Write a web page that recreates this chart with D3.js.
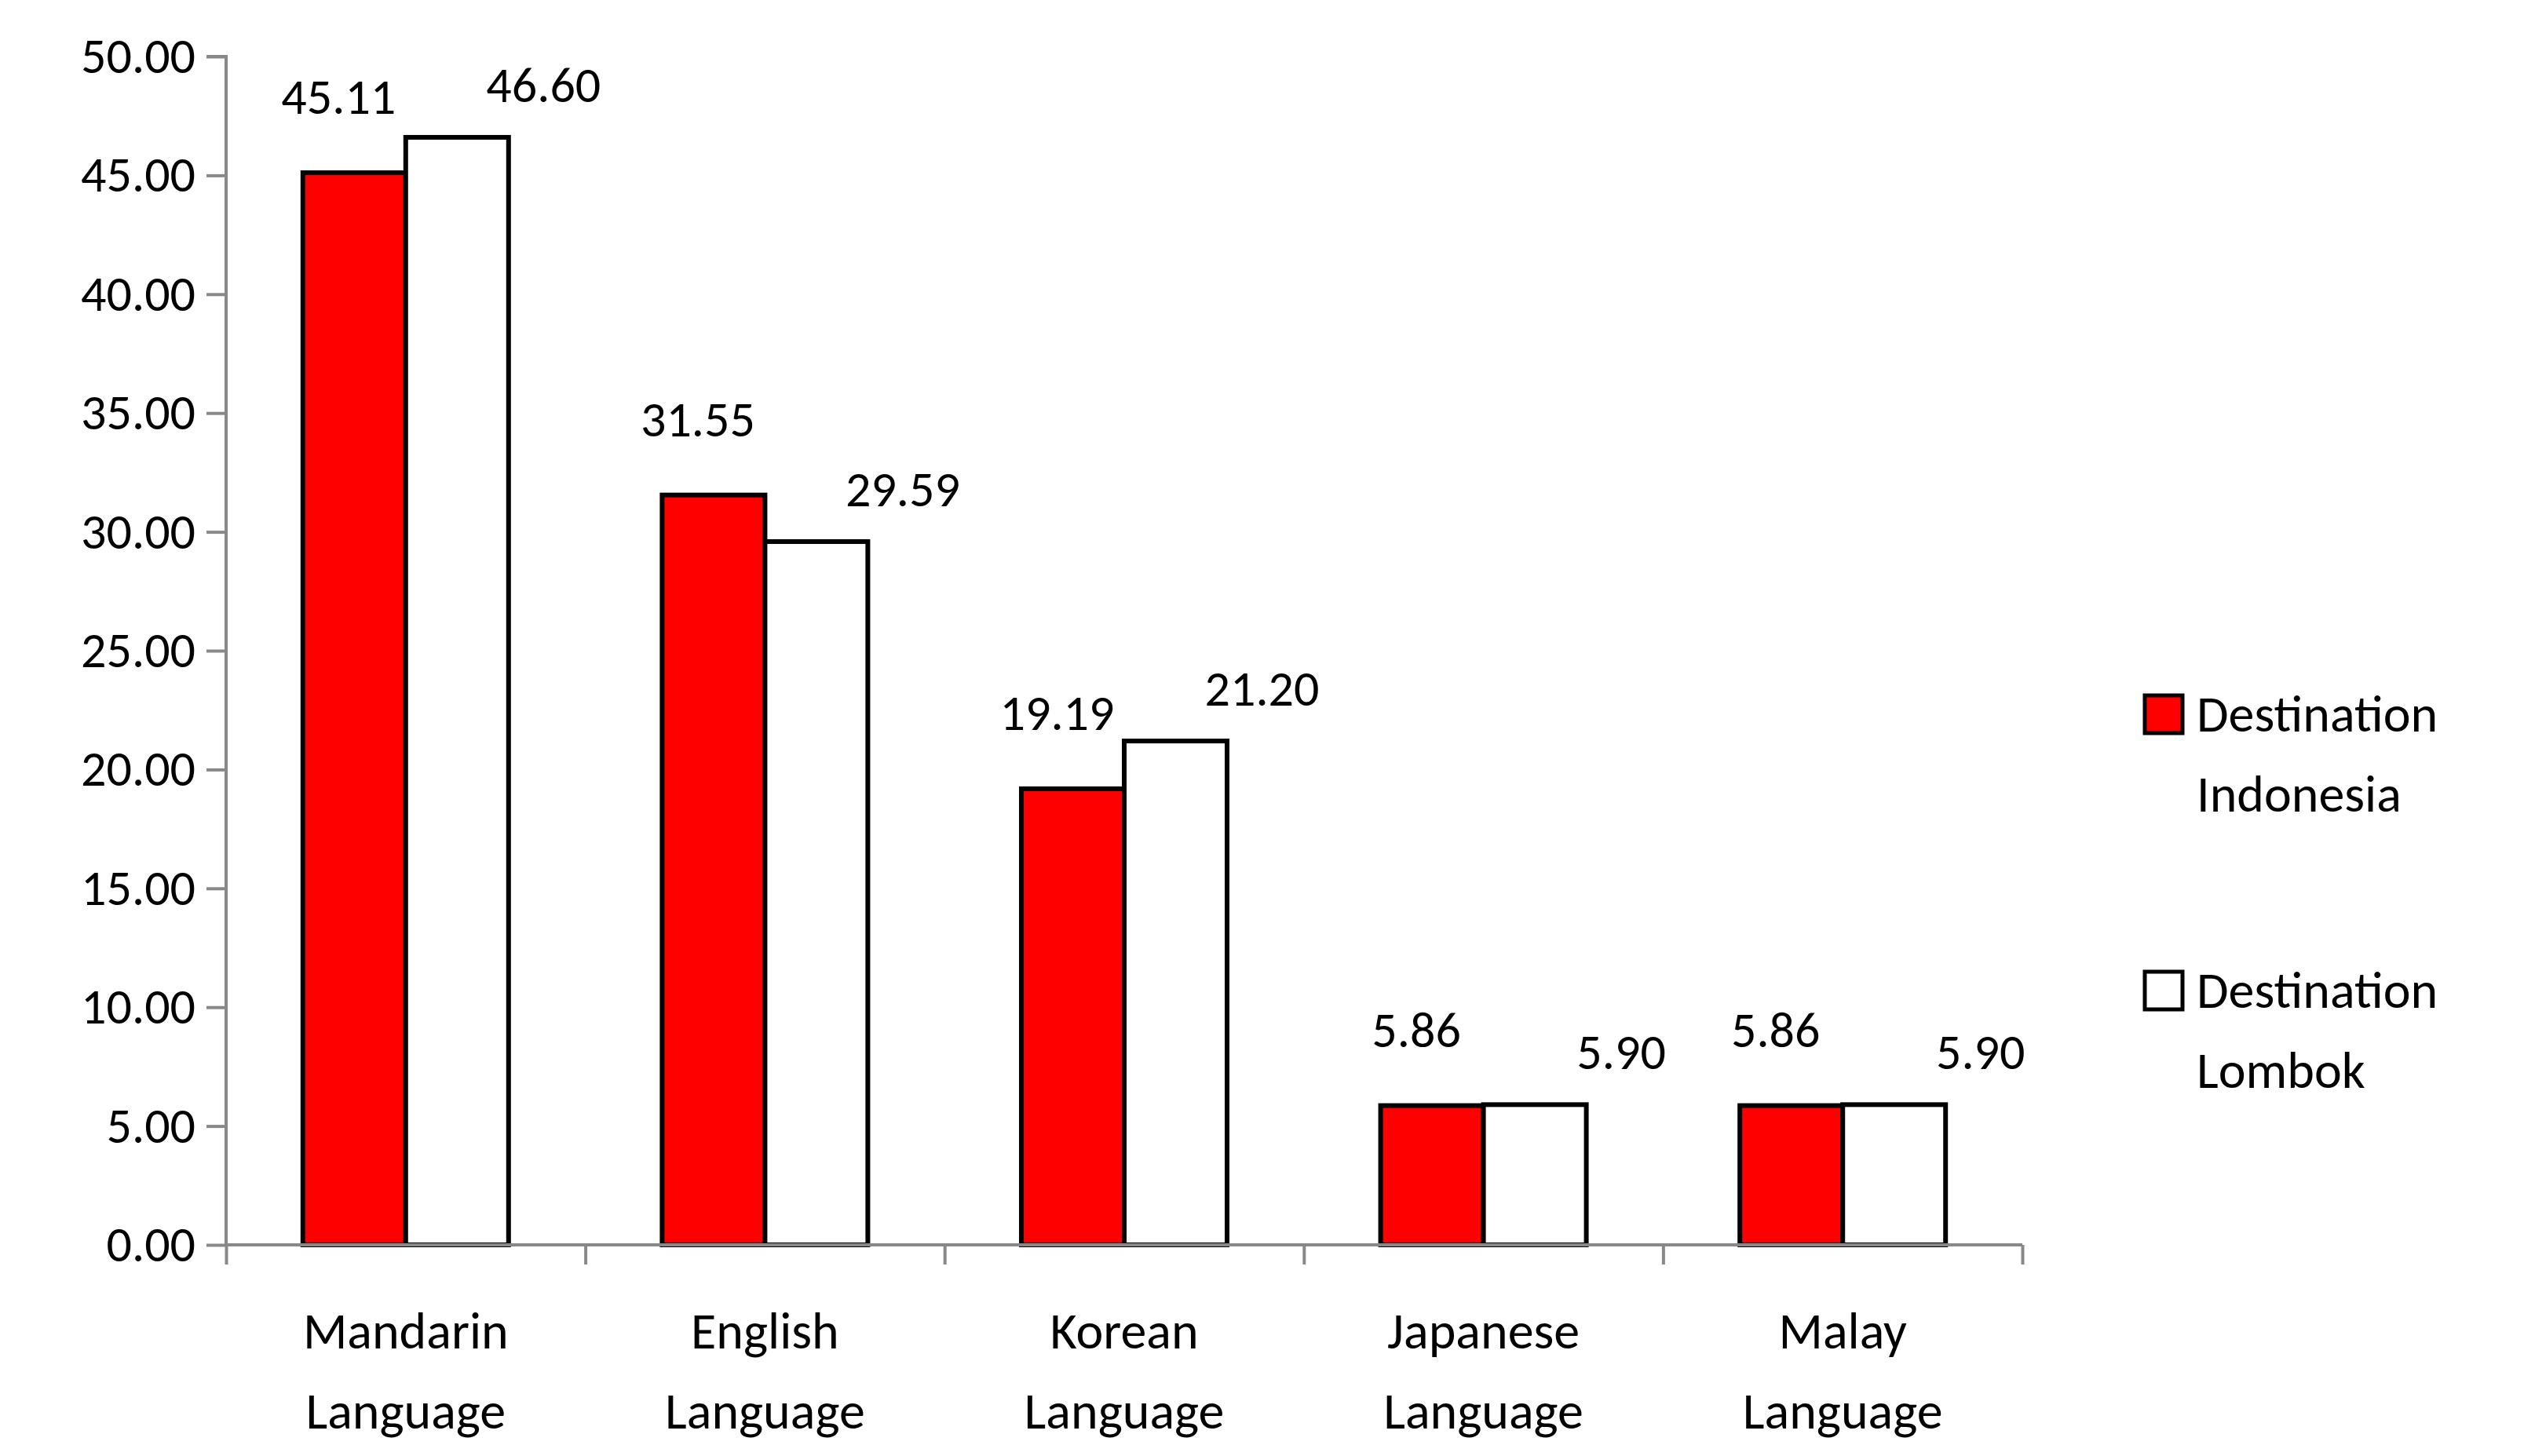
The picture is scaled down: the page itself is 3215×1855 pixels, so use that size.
<!DOCTYPE html>
<html><head><meta charset="utf-8">
<script src="https://cdn.jsdelivr.net/npm/d3@7"></script>
<style>body{margin:0;background:#fff}svg{display:block}</style>
</head><body>
<svg id="c" width="3215" height="1855"></svg>
<script>
const categories = [["Mandarin","Language"],["English","Language"],["Korean","Language"],["Japanese","Language"],["Malay","Language"]];
const indonesia = [45.11, 31.55, 19.19, 5.86, 5.86];
const lombok = [46.60, 29.59, 21.20, 5.90, 5.90];
const seriesNames = [["Destination","Indonesia"],["Destination","Lombok"]];
const yTicks = [0,5,10,15,20,25,30,35,40,45,50];

const svg = d3.select("#c");
const F = "Carlito, Lato, 'Open Sans', sans-serif";
const x0 = 288, x1 = 2576, yTop = 72, yBot = 1586;
const x = d3.scaleBand().domain(d3.range(5)).range([x0, x1]);
const xs = d3.scaleBand().domain([0,1]).range([0, 262]);
const y = d3.scaleLinear().domain([0,50]).range([yBot, yTop]);
const off = (x.bandwidth() - 262) / 2;

const ya = svg.append("g").attr("transform",`translate(${x0},0)`)
  .call(d3.axisLeft(y).tickValues(yTicks).tickFormat(d3.format(".2f")).tickSize(25).tickPadding(14));
ya.selectAll("text").attr("font-family",F).attr("font-size",64).attr("fill","#000");
ya.selectAll("line,path").attr("stroke","#888").attr("stroke-width",4);
ya.select("path").attr("d",`M-25,${yTop}H0V${yBot}`);

const data = [indonesia, lombok];
const colors = ["#ff0000","#ffffff"];
data.forEach((arr,s)=>{
  svg.append("g").selectAll("rect").data(arr).join("rect")
    .attr("x",(d,i)=>x(i)+off+xs(s)).attr("width",xs.bandwidth())
    .attr("y",d=>y(d)).attr("height",d=>yBot-y(d))
    .attr("fill",colors[s]).attr("stroke","#000").attr("stroke-width",6);
  svg.append("g").selectAll("text").data(arr).join("text")
    .attr("x",(d,i)=>x(i)+off+xs(s)+xs.bandwidth()/2 + (s===0?-20:110))
    .attr("y",d=>y(d)-(s===0?75:45))
    .attr("text-anchor","middle").attr("font-family",F).attr("font-size",64)
    .text(d=>d.toFixed(2));
});

const xa = svg.append("g").attr("transform",`translate(0,${yBot})`)
  .call(d3.axisBottom(d3.scaleLinear().domain([0,5]).range([x0,x1])).ticks(5).tickSize(25).tickFormat(""));
xa.selectAll("line,path").attr("stroke","#888").attr("stroke-width",4);
xa.select("path").attr("d",`M${x0},0H${x1}`);

categories.forEach((c,i)=>{
  const t = svg.append("text").attr("text-anchor","middle").attr("font-family",F).attr("font-size",66)
    .attr("x",x(i)+x.bandwidth()/2).attr("y",1718);
  c.forEach((l,k)=>t.append("tspan").attr("x",x(i)+x.bandwidth()/2).attr("dy",k?102:0).text(l));
});

seriesNames.forEach((n,s)=>{
  const gy = 910 + s*352;
  svg.append("rect").attr("x",2732).attr("y",gy-24).attr("width",48).attr("height",48)
    .attr("fill",colors[s]).attr("stroke","#000").attr("stroke-width",5);
  const t = svg.append("text").attr("font-family",F).attr("font-size",66).attr("x",2798).attr("y",gy+22);
  n.forEach((l,k)=>t.append("tspan").attr("x",2798).attr("dy",k?102:0).text(l));
});
</script>
</body></html>
